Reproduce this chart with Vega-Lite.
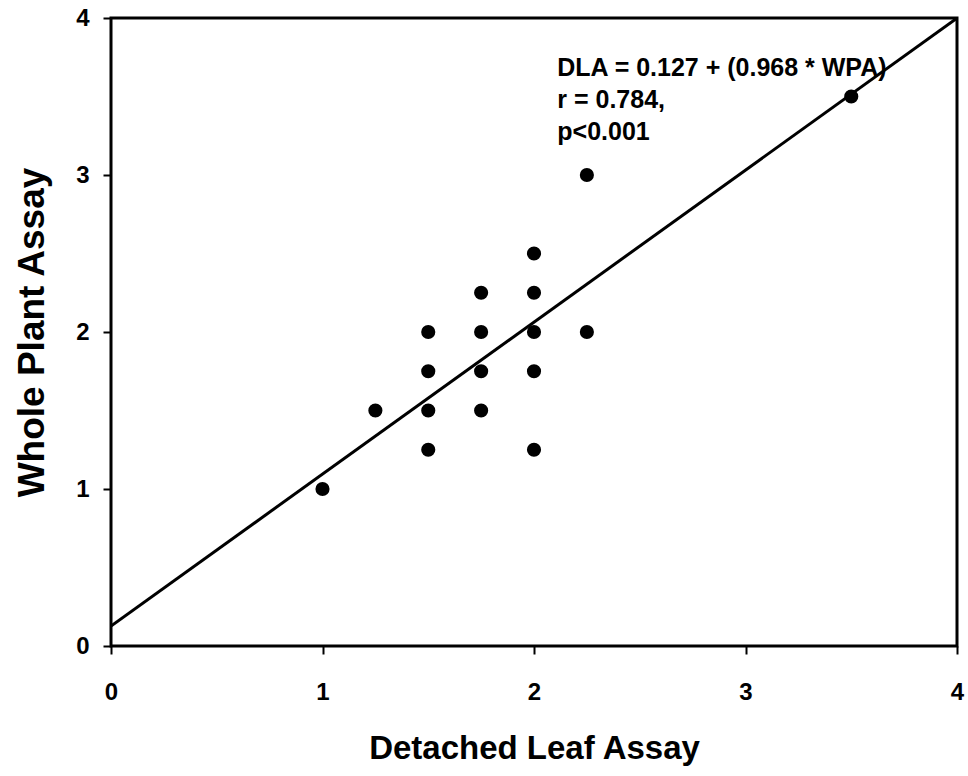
{
  "$schema": "https://vega.github.io/schema/vega-lite/v6.json",
  "width": 846,
  "height": 628,
  "autosize": {"type": "none"},
  "padding": {"left": 111, "top": 18, "right": 11, "bottom": 130},
  "background": "white",
  "config": {
    "font": "Liberation Sans",
    "view": {"stroke": "black", "strokeWidth": 3},
    "axis": {
      "grid": false,
      "domain": false,
      "ticks": true,
      "tickColor": "black",
      "tickWidth": 2,
      "tickSize": 8,
      "labelFont": "Liberation Sans",
      "labelFontWeight": "bold",
      "labelFontSize": 24,
      "labelColor": "black",
      "labelFlush": false,
      "titleFont": "Liberation Sans",
      "titleFontWeight": "bold",
      "titleFontSize": 33,
      "titleColor": "black"
    }
  },
  "datasets": {
    "pts": [
      {"dla": 1.0, "wpa": 1.0},
      {"dla": 1.25, "wpa": 1.5},
      {"dla": 1.5, "wpa": 1.25},
      {"dla": 1.5, "wpa": 1.5},
      {"dla": 1.5, "wpa": 1.75},
      {"dla": 1.5, "wpa": 2.0},
      {"dla": 1.75, "wpa": 1.5},
      {"dla": 1.75, "wpa": 1.75},
      {"dla": 1.75, "wpa": 2.0},
      {"dla": 1.75, "wpa": 2.25},
      {"dla": 2.0, "wpa": 1.25},
      {"dla": 2.0, "wpa": 1.75},
      {"dla": 2.0, "wpa": 2.0},
      {"dla": 2.0, "wpa": 2.25},
      {"dla": 2.0, "wpa": 2.5},
      {"dla": 2.25, "wpa": 2.0},
      {"dla": 2.25, "wpa": 3.0},
      {"dla": 3.5, "wpa": 3.5}
    ],
    "fit": [
      {"dla": 0, "wpa": 0.127},
      {"dla": 4, "wpa": 3.999}
    ],
    "note": [
      {"dla": 2.11, "wpa": 3.76, "label": ["DLA = 0.127 + (0.968 * WPA)", "r = 0.784,", "p<0.001"]}
    ]
  },
  "layer": [
    {
      "data": {"name": "fit"},
      "mark": {"type": "line", "color": "black", "strokeWidth": 3, "clip": true},
      "encoding": {
        "x": {"field": "dla", "type": "quantitative", "scale": {"domain": [0, 4]},
              "axis": {"values": [0, 1, 2, 3, 4], "format": "d", "title": "Detached Leaf Assay", "labelPadding": 26, "titlePadding": 28}},
        "y": {"field": "wpa", "type": "quantitative", "scale": {"domain": [0, 4]},
              "axis": {"values": [0, 1, 2, 3, 4], "format": "d", "title": "Whole Plant Assay", "titleFontSize": 37, "labelPadding": 14, "titlePadding": 24}}
      }
    },
    {
      "data": {"name": "pts"},
      "mark": {"type": "circle", "color": "black", "opacity": 1, "size": 200},
      "encoding": {
        "x": {"field": "dla", "type": "quantitative"},
        "y": {"field": "wpa", "type": "quantitative"}
      }
    },
    {
      "data": {"name": "note"},
      "mark": {"type": "text", "align": "left", "baseline": "top", "font": "Liberation Sans", "fontWeight": "bold", "fontSize": 25, "lineHeight": 32, "color": "black"},
      "encoding": {
        "x": {"field": "dla", "type": "quantitative"},
        "y": {"field": "wpa", "type": "quantitative"},
        "text": {"field": "label"}
      }
    }
  ]
}
